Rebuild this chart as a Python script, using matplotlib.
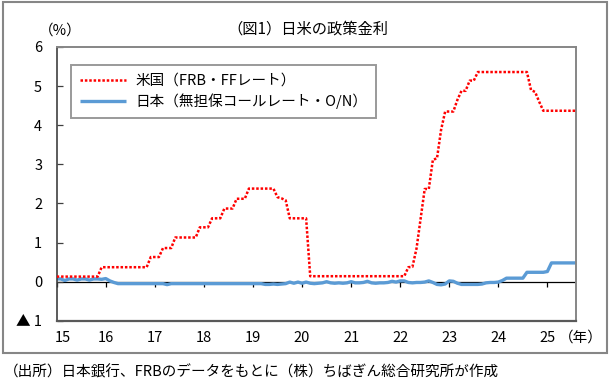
import numpy as np
import matplotlib.pyplot as plt
from matplotlib.patches import Rectangle

plt.rcParams['font.family'] = ['Noto Sans CJK JP', 'DejaVu Sans']

# month-end policy rates, Jan 2015 - Aug 2025 (%), one list per year
us_2015 = [0.13] * 11 + [0.37]
us_2016 = [0.37] * 11 + [0.63]
us_2017 = [0.63, 0.63, 0.86, 0.86, 0.86, 1.13, 1.13, 1.13, 1.13, 1.13, 1.13, 1.39]
us_2018 = [1.39, 1.39, 1.62, 1.62, 1.62, 1.87, 1.87, 1.87, 2.12, 2.12, 2.12, 2.38]
us_2019 = [2.38] * 6 + [2.16, 2.13, 2.08, 1.62, 1.62, 1.62]
us_2020 = [1.62, 1.62] + [0.14] * 10
us_2021 = [0.14] * 12
us_2022 = [0.14, 0.14, 0.37, 0.38, 0.85, 1.60, 2.37, 2.37, 3.12, 3.15, 3.88, 4.35]
us_2023 = [4.35, 4.35, 4.65, 4.88, 4.88, 5.14, 5.14, 5.36, 5.36, 5.36, 5.36, 5.36]
us_2024 = [5.36] * 8 + [4.90, 4.85, 4.60, 4.37]
us_2025 = [4.37] * 8

jp_2015 = [0.07, 0.07, 0.03, 0.07, 0.07, 0.04, 0.07, 0.07, 0.04, 0.07, 0.07, 0.06]
jp_2016 = [0.08, 0.02, -0.02] + [-0.05] * 9
jp_2017 = [-0.05, -0.05, -0.05, -0.075] + [-0.05] * 8
jp_2018 = [-0.05] * 12
jp_2019 = [-0.05, -0.05, -0.05, -0.07, -0.07, -0.06, -0.07, -0.06, -0.05, -0.01, -0.04, -0.01]
jp_2020 = [-0.04, -0.01, -0.04, -0.05, -0.04, -0.03, 0.0, -0.03, -0.04, -0.03, -0.04, -0.03]
jp_2021 = [0.0, -0.03, -0.03, -0.02, 0.01, -0.03, -0.04, -0.03, -0.03, -0.02, 0.01, -0.01]
jp_2022 = [0.02, 0.02, -0.02, -0.03, -0.02, -0.02, -0.01, 0.02, -0.02, -0.07, -0.08, -0.06]
jp_2023 = [0.02, 0.01, -0.04, -0.07, -0.07, -0.07, -0.07, -0.07, -0.06, -0.03, -0.02, -0.02]
jp_2024 = [-0.01, 0.03, 0.09, 0.09, 0.09, 0.09, 0.09, 0.24, 0.24, 0.24, 0.24, 0.24]
jp_2025 = [0.26, 0.48, 0.48, 0.48, 0.48, 0.48, 0.48, 0.48]

us_rate = np.array(us_2015 + us_2016 + us_2017 + us_2018 + us_2019 + us_2020
                   + us_2021 + us_2022 + us_2023 + us_2024 + us_2025)
jp_rate = np.array(jp_2015 + jp_2016 + jp_2017 + jp_2018 + jp_2019 + jp_2020
                   + jp_2021 + jp_2022 + jp_2023 + jp_2024 + jp_2025)

years = list(range(2015, 2026))
year_labels = ["15", "16", "17", "18", "19", "20", "21", "22", "23", "24", "25"]
y_ticks = [-1, 0, 1, 2, 3, 4, 5, 6]
y_labels = ["▲ 1", "0", "1", "2", "3", "4", "5", "6"]

# monthly positions in decimal years
t = 2015 + np.arange(len(us_rate)) / 12

W, H = 616, 384
fig = plt.figure(figsize=(W / 100, H / 100), dpi=100)
ax = fig.add_axes([56.7 / W, 1 - 320.8 / H, (576 - 56.7) / W, (320.8 - 47) / H])

ax.axhline(0, color="black", linewidth=0.9, zorder=1)
ax.plot(t, jp_rate, color="#5B9BD5", linewidth=2.4, solid_capstyle="butt",
        label="日本（無担保コールレート・O/N）", zorder=2)
ax.plot(t, us_rate, color="#FF0000", linewidth=1.8, linestyle=(0, (1, 0.75)),
        label="米国（FRB・FFレート）", zorder=3)

ax.set_xlim(2015, t[-1])
ax.set_ylim(-1, 6)
ax.set_yticks(y_ticks, y_labels)
ax.tick_params(axis="y", direction="in", length=4, width=0.9, color="#404040",
               pad=10.5, labelsize=10.5)

# x ticks hang from the zero line, labels sit under the frame
ax.set_xticks(years)
ax.tick_params(axis="x", direction="out", length=3.5, width=0.9, color="black",
               labelbottom=False)
ax.spines["bottom"].set_position(("data", 0))
ax.spines["bottom"].set_visible(False)
for side in ["top", "right"]:
    ax.spines[side].set_color("#868686")
    ax.spines[side].set_linewidth(1.4)
ax.spines["left"].set_color("#404040")
ax.spines["left"].set_linewidth(1.2)
ax.axhline(-1, color="#595959", linewidth=1.6, clip_on=False, zorder=4)

for yr, lab in zip(years, year_labels):
    dx = 6 / 519.3 * (t[-1] - 2015) if yr == 2015 else 0
    ax.text(yr + dx, -0.063, lab, transform=ax.get_xaxis_transform(),
            ha="center", va="center", fontsize=10.5)

handles, labels = ax.get_legend_handles_labels()
leg = ax.legend(handles[::-1], labels[::-1], loc="upper left",
                bbox_to_anchor=(0.0275, 0.934), borderaxespad=0, fancybox=False,
                edgecolor="#808080", fontsize=10.5, handlelength=3.2,
                handletextpad=0.6, labelspacing=0.4, borderpad=0.6)
leg.get_frame().set_linewidth(1.4)

fig.text(308 / W, 1 - 29 / H, "（図1）日米の政策金利", ha="center", va="center", fontsize=11)
fig.text(60 / W, 1 - 31 / H, "（%）", ha="center", va="center", fontsize=10.5)
fig.text(581 / W, 1 - 338 / H, "（年）", ha="center", va="center", fontsize=10.5)
fig.text(4 / W, 1 - 372 / H, "（出所）日本銀行、FRBのデータをもとに（株）ちばぎん総合研究所が作成",
         ha="left", va="center", fontsize=10.5)

fig.add_artist(Rectangle((3 / W, 1 - 353 / H), 604 / W, 351 / H, transform=fig.transFigure,
                         fill=False, edgecolor="#868686", linewidth=1.5))

fig.savefig("out.png", dpi=100)
